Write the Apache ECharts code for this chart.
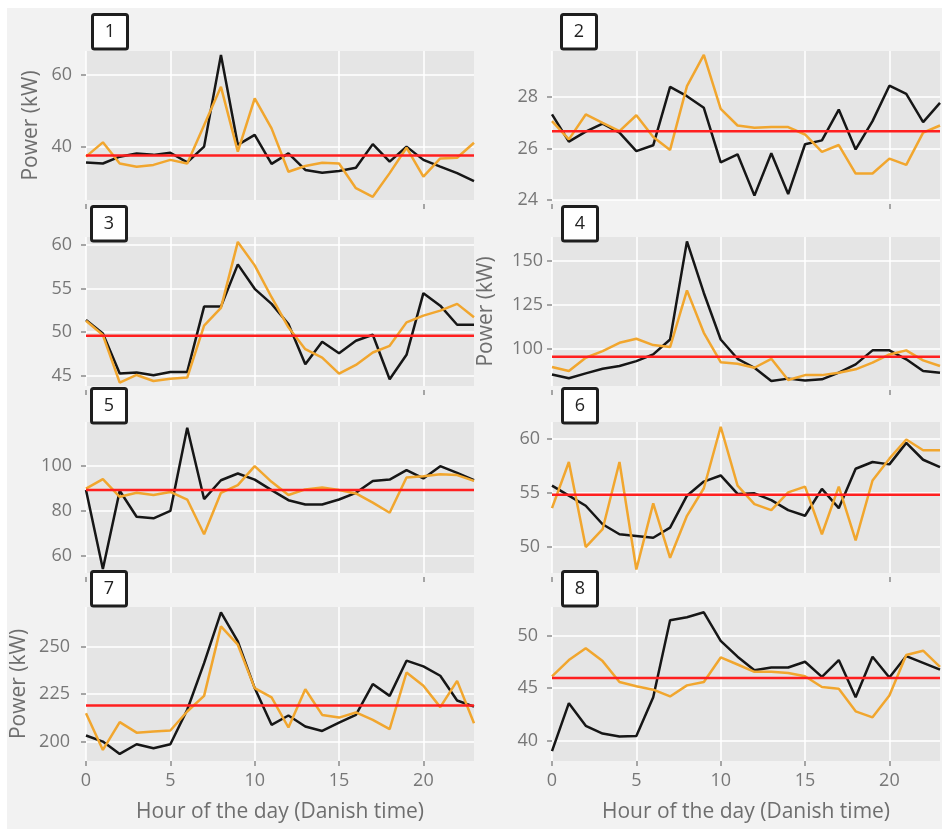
<!DOCTYPE html>
<html><head><meta charset="utf-8">
<script src="https://cdn.jsdelivr.net/npm/echarts@6/dist/echarts.min.js"></script>
<style>html,body{margin:0;padding:0;background:#fff}#c{width:942px;height:829px}</style>
</head><body><div id="c"></div>
<script>
// ---- data ----
const hours = [0,1,2,3,4,5,6,7,8,9,10,11,12,13,14,15,16,17,18,19,20,21,22,23];
const panelLabels = ['1','2','3','4','5','6','7','8'];

const p1Black  = [35.6,35.3,37.2,38.1,37.7,38.3,35.6,40.0,65.6,40.5,43.3,35.2,38.1,33.5,32.7,33.2,34.1,40.7,35.8,40.0,36.3,34.4,32.6,30.4];
const p1Orange = [37.2,41.2,35.3,34.4,34.9,36.3,35.3,46.0,56.7,38.6,53.5,45.1,33.0,34.6,35.5,35.3,28.4,26.0,32.6,39.7,31.6,36.7,36.9,41.1];
const p2Black  = [27.33,26.27,26.66,26.97,26.62,25.90,26.13,28.40,28.04,27.59,25.46,25.78,24.17,25.82,24.23,26.17,26.32,27.52,25.97,27.07,28.45,28.13,27.03,27.78];
const p2Orange = [27.07,26.36,27.33,27.00,26.68,27.30,26.45,25.95,28.43,29.65,27.55,26.90,26.81,26.84,26.84,26.55,25.87,26.14,25.03,25.03,25.61,25.37,26.62,26.90];
const p3Black  = [51.39,49.86,45.27,45.38,45.07,45.46,45.46,52.92,52.92,57.74,54.95,53.23,50.93,46.34,48.90,47.60,49.02,49.70,44.62,47.41,54.45,53.03,50.85,50.85];
const p3Orange = [51.30,49.67,44.23,45.11,44.42,44.69,44.81,50.74,52.77,60.31,57.63,53.99,50.55,48.06,47.10,45.27,46.26,47.68,48.44,51.12,51.89,52.46,53.23,51.70];
const p4Black  = [85.2,83.0,85.8,88.4,90.0,92.8,96.6,105.1,161.0,131.6,105.1,94.1,89.0,81.4,82.8,81.8,82.4,86.2,90.9,98.9,98.9,93.8,87.1,86.2];
const p4Orange = [89.4,87.1,94.7,98.5,103.2,105.5,101.9,100.8,133.1,108.9,92.2,91.3,89.0,94.1,82.0,84.8,84.8,86.2,88.1,91.9,96.6,98.9,93.2,90.0];
const p5Black  = [89.2,54.0,88.9,77.3,76.6,79.9,117.0,85.2,93.6,96.6,93.9,89.2,84.7,82.8,82.8,85.0,88.0,93.3,93.9,98.1,94.4,99.9,96.9,93.6];
const p5Orange = [89.9,94.1,86.2,88.0,87.0,88.4,85.0,69.5,88.0,91.4,99.9,92.9,87.0,89.5,90.4,89.2,87.7,83.6,79.1,94.8,95.4,96.3,95.9,93.3];
const p6Black  = [55.69,54.75,53.81,52.09,51.16,51.00,50.84,51.78,54.75,56.06,56.63,54.91,54.97,54.34,53.41,52.88,55.38,53.59,57.25,57.88,57.66,59.66,58.09,57.41];
const p6Orange = [53.59,57.88,49.97,51.63,57.88,47.88,54.03,48.97,52.88,55.44,61.16,55.69,53.97,53.41,55.06,55.59,51.16,55.59,50.59,56.16,58.19,59.97,58.97,58.97];
const p7Black  = [203.2,200.0,193.5,198.6,196.5,198.6,216.7,241.2,267.9,252.6,228.1,208.8,213.7,207.9,205.6,210.0,214.0,230.2,224.0,242.5,239.5,234.6,221.6,218.4];
const p7Orange = [214.9,195.6,210.2,204.7,205.3,205.8,215.8,224.0,260.5,250.9,228.1,223.2,207.4,227.5,214.0,212.6,215.3,211.4,206.5,236.3,229.3,218.1,231.9,209.6];
const p8Black  = [39.04,43.58,41.44,40.70,40.42,40.48,44.15,51.44,51.73,52.20,49.49,47.99,46.71,46.96,46.96,47.51,46.07,47.67,44.15,47.99,46.01,48.05,47.41,46.77];
const p8Orange = [46.13,47.67,48.79,47.57,45.59,45.18,44.86,44.22,45.27,45.59,47.92,47.25,46.55,46.55,46.45,46.13,45.11,44.95,42.81,42.24,44.31,48.15,48.56,47.03];

const means = [37.5,26.68,49.59,95.3,89.2,54.84,218.9,45.97];
const yTicks = [[40,60],[24,26,28],[45,50,55,60],[100,125,150],[60,80,100],[50,55,60],[200,225,250],[40,45,50]];
const yMin = [25.1,24.0,43.85,78.6,52.2,47.56,189.8,38.1];
const yMax = [66.7,29.8,60.87,163.5,119.6,61.6,270.7,52.7];
const xTicks = [0,5,10,15,20];
const strayXTicks = [0,20];

const blacks = [p1Black,p2Black,p3Black,p4Black,p5Black,p6Black,p7Black,p8Black];
const oranges = [p1Orange,p2Orange,p3Orange,p4Orange,p5Orange,p6Orange,p7Orange,p8Orange];

// ---- layout ----
const FONT = 'Open Sans';
const colLeft = [86, 552];
const rowTop = [51, 237, 422, 607];
const rowH = [149, 149, 151, 154];
const boxes = [[91,13],[560,13],[90,205],[561,205],[90,387],[561,387],[90,570],[561,570]];
const yNameGap = [44,0,0,55,0,0,56,0];
const yLabelMargin = [14,14,14,9,14,12,16,14];

const grids = [], xAxes = [], yAxes = [], series = [];
for (let i = 0; i < 8; i++) {
  const col = i % 2, row = Math.floor(i / 2);
  const bottom = row === 3;
  grids.push({left: colLeft[col], width: 388, top: rowTop[row], height: rowH[row],
    show: true, backgroundColor: '#e5e5e5', borderWidth: 0, containLabel: false});
  xAxes.push({
    gridIndex: i, type: 'value', min: 0, max: 23, interval: 5,
    axisLine: {show: false},
    axisTick: {show: bottom, customValues: xTicks, length: 5, lineStyle: {color: '#8c8c8c', width: 1.5}},
    axisLabel: {show: bottom, customValues: xTicks, margin: 11, color: '#777', fontSize: 18, fontFamily: FONT},
    splitLine: {show: true, lineStyle: {color: '#ffffff', width: 1.5}},
    name: bottom ? 'Hour of the day (Danish time)' : '',
    nameLocation: 'middle', nameGap: 41,
    nameTextStyle: {color: '#6e6e6e', fontSize: 21, fontFamily: FONT}
  });
  yAxes.push({
    gridIndex: i, type: 'value', min: yMin[i], max: yMax[i],
    axisLine: {show: false},
    axisTick: {show: true, customValues: yTicks[i], length: 5, lineStyle: {color: '#8c8c8c', width: 1.5}},
    axisLabel: {customValues: yTicks[i], margin: yLabelMargin[i], color: '#777', fontSize: 18, fontFamily: FONT},
    splitLine: {show: true, lineStyle: {color: '#ffffff', width: 1.5}},
    name: yNameGap[i] ? 'Power (kW)' : '',
    nameLocation: 'middle', nameGap: yNameGap[i], nameRotate: 90,
    nameTextStyle: {color: '#6e6e6e', fontSize: 21, fontFamily: FONT}
  });
  const pair = (arr) => hours.map((h, j) => [h, arr[j]]);
  series.push({type: 'line', xAxisIndex: i, yAxisIndex: i, data: pair(blacks[i]),
    showSymbol: false, lineStyle: {color: '#161616', width: 2.5}, z: 3, silent: true, animation: false});
  series.push({type: 'line', xAxisIndex: i, yAxisIndex: i, data: pair(oranges[i]),
    showSymbol: false, lineStyle: {color: '#f1a62e', width: 2.5}, z: 4, silent: true, animation: false});
  series.push({type: 'line', xAxisIndex: i, yAxisIndex: i,
    data: [[hours[0], means[i]], [hours[hours.length - 1], means[i]]],
    showSymbol: false, lineStyle: {color: '#ff1f1f', width: 2.5}, z: 5, silent: true, animation: false});
}
// leftover tick marks under the upper panels
for (let i = 0; i < 6; i++) {
  xAxes.push({
    gridIndex: i, type: 'value', min: 0, max: 23, position: 'bottom', offset: 4,
    axisLine: {show: false},
    axisTick: {show: true, customValues: strayXTicks, length: 5, lineStyle: {color: '#8c8c8c', width: 1.5}},
    axisLabel: {show: false}, splitLine: {show: false}
  });
}

const graphics = [{type: 'rect', shape: {x: 7, y: 8, width: 935, height: 821}, style: {fill: '#f2f2f2'}, z: -10, silent: true}];
boxes.forEach((b, i) => {
  graphics.push({type: 'rect', shape: {x: b[0] + 1.5, y: b[1] + 1.5, width: 35, height: 34.5, r: 2},
    style: {fill: '#ffffff', stroke: '#1e1e1e', lineWidth: 3}, z: 100});
  graphics.push({type: 'text', x: b[0] + 19, y: b[1] + 19,
    style: {text: panelLabels[i], fill: '#222', font: '18px "Open Sans"', align: 'center', verticalAlign: 'middle'}, z: 101});
});

const chart = echarts.init(document.getElementById('c'), null, {renderer: 'canvas'});
chart.setOption({
  backgroundColor: 'transparent',
  animation: false,
  grid: grids, xAxis: xAxes, yAxis: yAxes, series: series,
  graphic: graphics
});
</script></body></html>
